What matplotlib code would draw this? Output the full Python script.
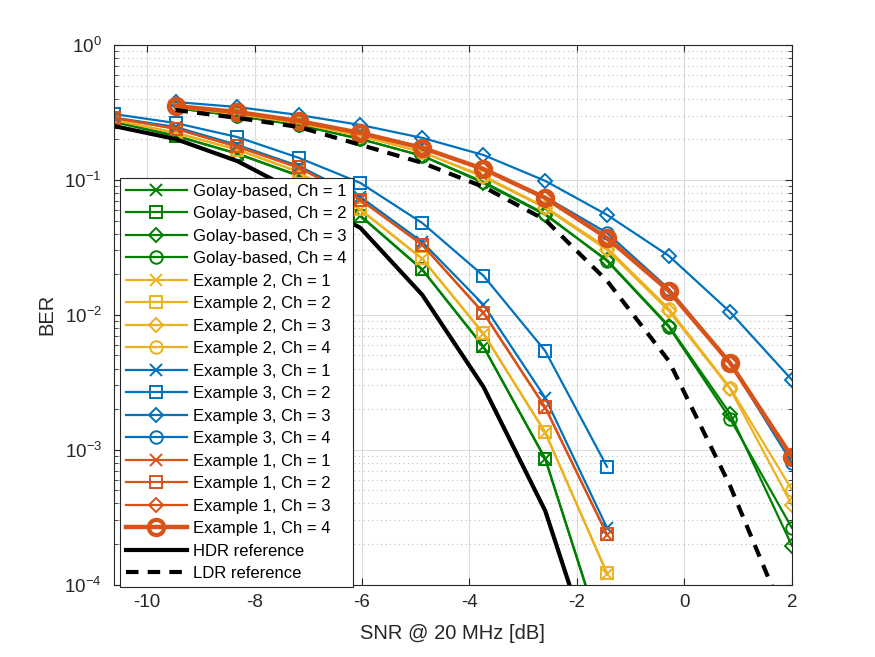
import matplotlib
matplotlib.use("Agg")
import matplotlib.pyplot as plt
from matplotlib.ticker import LogLocator, FixedLocator, NullFormatter

plt.rcParams['font.family'] = ['Liberation Sans', 'DejaVu Sans']
plt.rcParams['mathtext.fontset'] = 'custom'
plt.rcParams['mathtext.rm'] = 'Liberation Sans'

# SNR axis values
snr_low = [-10.62, -9.47, -8.32, -7.18, -6.03, -4.88, -3.74, -2.59, -1.44]
snr_high = [-9.47, -8.32, -7.18, -6.03, -4.88, -3.74, -2.59, -1.44, -0.29, 0.85, 2.0]

# Golay-based
golay_ch1 = [0.269, 0.212, 0.156, 0.107, 0.0541, 0.0216, 0.00579, 8.57e-4, 3.13e-5]
golay_ch2 = [0.270, 0.213, 0.157, 0.108, 0.0545, 0.0218, 0.00583, 8.6e-4, 3.2e-5]
golay_ch3 = [0.341, 0.298, 0.2555, 0.201, 0.151, 0.095, 0.0551, 0.0255, 0.0083, 0.00185, 1.95e-4]
golay_ch4 = [0.341, 0.298, 0.2555, 0.201, 0.151, 0.0967, 0.056, 0.0251, 0.00815, 0.0017, 2.64e-4]

# Example 2
ex2_ch1 = [0.278, 0.223, 0.167, 0.1146, 0.060, 0.026, 0.00723, 0.00134, 1.21e-4]
ex2_ch2 = [0.279, 0.224, 0.168, 0.115, 0.0605, 0.0262, 0.0073, 0.00135, 1.22e-4]
ex2_ch3 = [0.347, 0.308, 0.264, 0.212, 0.161, 0.105, 0.0621, 0.0303, 0.0107, 0.00283, 3.91e-4]
ex2_ch4 = [0.347, 0.308, 0.264, 0.212, 0.161, 0.107, 0.0631, 0.0314, 0.0111, 0.00288, 5.06e-4]

# Example 3
ex3_ch1 = [0.290, 0.247, 0.1816, 0.127, 0.0748, 0.0347, 0.0119, 0.00243, 2.64e-4]
ex3_ch2 = [0.308, 0.264, 0.208, 0.146, 0.095, 0.048, 0.0195, 0.0054, 7.48e-4]
ex3_ch3 = [0.378, 0.347, 0.303, 0.2555, 0.205, 0.153, 0.0984, 0.0551, 0.0274, 0.0105, 0.0033]
ex3_ch4 = [0.353, 0.319, 0.2735, 0.223, 0.173, 0.1206, 0.0748, 0.0405, 0.0156, 0.0044, 8.0e-4]

# Example 1
ex1_ch1 = [0.288, 0.239, 0.176, 0.123, 0.0711, 0.033, 0.0103, 0.00205, 2.34e-4]
ex1_ch2 = [0.289, 0.240, 0.177, 0.124, 0.0715, 0.0332, 0.0104, 0.00207, 2.36e-4]
ex1_ch3 = [0.352, 0.318, 0.272, 0.222, 0.172, 0.120, 0.073, 0.037, 0.0150, 0.0044, 8.8e-4]
ex1_ch4 = [0.353, 0.319, 0.2735, 0.223, 0.173, 0.1206, 0.0736, 0.0372, 0.01506, 0.0044, 8.87e-4]

# References
hdr_ref = [0.251, 0.201, 0.138, 0.0801, 0.0441, 0.0141, 0.00293, 3.53e-4, 1.4e-5]
ldr_ref = [0.330, 0.288, 0.247, 0.182, 0.134, 0.0888, 0.0506, 0.0179, 0.00456, 5.41e-4, 4.3e-5]

schemes = ["Golay-based", "Example 2", "Example 3", "Example 1"]
colors = ["#008000", "#EDB120", "#0072BD", "#D95319"]
series = [
    [golay_ch1, golay_ch2, golay_ch3, golay_ch4],
    [ex2_ch1, ex2_ch2, ex2_ch3, ex2_ch4],
    [ex3_ch1, ex3_ch2, ex3_ch3, ex3_ch4],
    [ex1_ch1, ex1_ch2, ex1_ch3, ex1_ch4],
]
markers = ["x", "s", "D", "o"]
msizes = [8, 8, 7.5, 9]

fig = plt.figure(figsize=(8.75, 6.57), dpi=100)
ax = fig.add_axes([0.13, 0.11, 0.775, 0.8215])

for s, (name, col, group) in enumerate(zip(schemes, colors, series)):
    for ch, data in enumerate(group):
        x = snr_low if ch < 2 else snr_high
        thick = (name == "Example 1" and ch == 3)
        ax.plot(x, data, color=col, marker=markers[ch],
                markersize=11 if thick else msizes[ch],
                markerfacecolor='none', markeredgewidth=3 if thick else 1.4,
                linewidth=3.2 if thick else 1.6,
                label=f"{name}, Ch = {ch + 1}", clip_on=True)

ax.plot(snr_low, hdr_ref, color='black', linewidth=3, label="HDR reference")
ax.plot(snr_high, ldr_ref, color='black', linewidth=3, linestyle=(0, (3, 2.2)),
        label="LDR reference")

ax.set_yscale('log')
ax.set_xlim(-10.62, 2.0)
ax.set_ylim(1e-4, 1)
ax.set_xticks([-10, -8, -6, -4, -2, 0, 2])
ax.set_xticklabels(["-10", "-8", "-6", "-4", "-2", "0", "2"])
ax.yaxis.set_major_locator(FixedLocator([1e-4, 1e-3, 1e-2, 1e-1, 1]))
ax.yaxis.set_minor_locator(LogLocator(base=10, subs=range(2, 10), numticks=20))
ax.yaxis.set_minor_formatter(NullFormatter())

ax.grid(True, which='major', color='#dcdcdc', linewidth=0.8, linestyle='-')
ax.grid(True, which='minor', axis='y', color='#c0c0c0', linewidth=0.8, linestyle=(0, (1, 3)))
ax.set_axisbelow(True)
ax.tick_params(which='both', direction='in', top=True, right=True, labelsize=13.5, colors='#262626')
ax.tick_params(axis='x', which='major', pad=7)
ax.tick_params(axis='y', which='major', pad=8.5)
ax.tick_params(which='major', length=5)
ax.tick_params(which='minor', length=3)
for sp in ax.spines.values():
    sp.set_color('#262626')
    sp.set_linewidth(0.8)

ax.set_xlabel("SNR @ 20 MHz [dB]", fontsize=14.5, color='#262626', labelpad=9)
ax.set_ylabel("BER", fontsize=14.5, color='#262626', labelpad=6)

leg = ax.legend(loc='lower left', bbox_to_anchor=(120 / 875, 1 - 587 / 657),
                bbox_transform=fig.transFigure, fontsize=12, handlelength=3.65,
                handletextpad=0.4, borderpad=0.35, labelspacing=0.45,
                fancybox=False, framealpha=1, edgecolor='#262626', borderaxespad=0)
leg.get_frame().set_linewidth(0.8)

fig.savefig("out.png", dpi=100)
